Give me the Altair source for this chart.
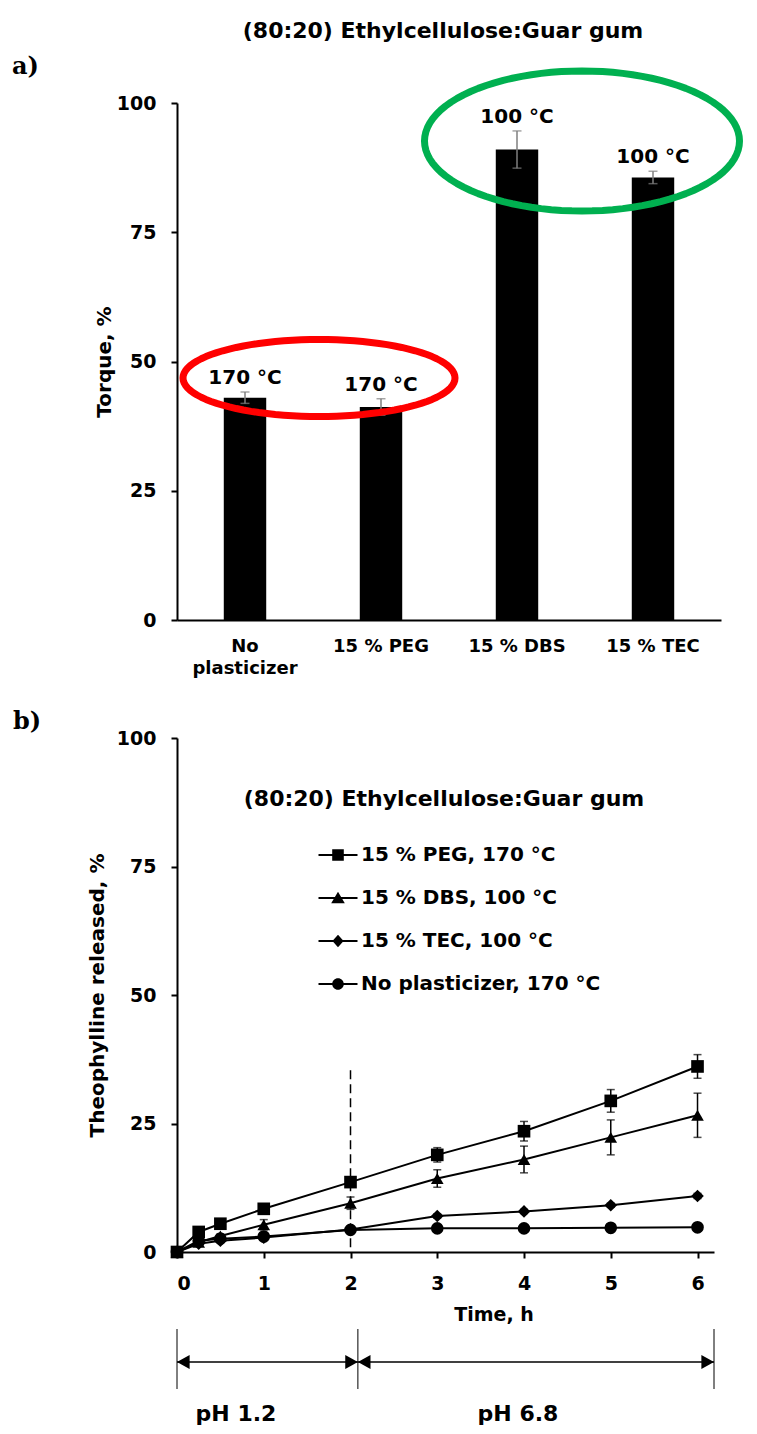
import math
import altair as alt
import pandas as pd

FONT = "DejaVu Sans"
SERIF = "DejaVu Serif"

# ---------------- data: panel a ----------------
categories = ["No plasticizer", "15 % PEG", "15 % DBS", "15 % TEC"]
torque = [43.0, 41.2, 91.0, 85.6]
torque_err = [1.1, 1.6, 3.6, 1.2]
temp_labels = ["170 °C", "170 °C", "100 °C", "100 °C"]
torque_ticks = [0, 25, 50, 75, 100]
title_text = "(80:20) Ethylcellulose:Guar gum"

# ---------------- data: panel b ----------------
times = [0, 0.25, 0.5, 1, 2, 3, 4, 5, 6]
series_names = ["15 % PEG, 170 °C", "15 % DBS, 100 °C", "15 % TEC, 100 °C", "No plasticizer, 170 °C"]
peg = [0, 3.9, 5.5, 8.4, 13.6, 18.9, 23.5, 29.4, 36.1]
peg_err = [0, 0.3, 0.3, 0.4, 0.5, 1.4, 1.9, 2.2, 2.3]
dbs = [0, 1.9, 3.1, 5.3, 9.5, 14.3, 18.0, 22.3, 26.6]
dbs_err = [0, 0.3, 0.4, 1.0, 1.2, 1.7, 2.6, 3.4, 4.3]
tec = [0, 1.6, 2.2, 2.8, 4.4, 7.0, 7.9, 9.1, 10.9]
tec_err = [0, 0.2, 0.2, 0.3, 0.3, 0.4, 0.4, 0.4, 0.5]
nop = [0, 2.2, 2.6, 3.0, 4.3, 4.6, 4.6, 4.7, 4.8]
nop_err = [0, 0.2, 0.2, 0.2, 0.2, 0.2, 0.2, 0.2, 0.2]
time_ticks = [0, 1, 2, 3, 4, 5, 6]
release_ticks = [0, 25, 50, 75, 100]
time_max = 6.19
switch_time = [2]
switch_range = [0.9, 35.7]
phase_names = ["pH 1.2", "pH 6.8"]
phase_start = [0, 2.085]
phase_end = [2.085, 6.19]

# ---------------- panel a ----------------
df_a = pd.DataFrame({"cat": categories, "torque": torque, "err": torque_err, "temp": temp_labels})

W_A, H_A = 544, 517
xA = alt.X("cat:N", sort=categories,
           scale=alt.Scale(paddingInner=0.688, paddingOuter=0.344),
           axis=alt.Axis(title=None, labelAngle=0, ticks=False, tickSize=0, labelPadding=17,
                         labelFontSize=18, labelFontWeight="bold", labelLineHeight=22,
                         labelExpr="datum.label == 'No plasticizer' ? ['No', 'plasticizer'] : datum.label",
                         domainWidth=2, labelLimit=300))
yA_axis = alt.Axis(values=torque_ticks, title="Torque, %", titleFontSize=20, titleFontWeight="bold",
                   titlePadding=2, labelFontSize=19, labelFontWeight="bold", labelPadding=15,
                   tickSize=6, tickWidth=2, domainWidth=2, grid=False)
yA_scale = alt.Scale(domain=[0, 100], nice=False)

base_a = alt.Chart(df_a).transform_calculate(lo="datum.torque - datum.err", hi="datum.torque + datum.err")
bars = base_a.mark_bar(color="black").encode(x=xA, y=alt.Y("torque:Q", scale=yA_scale, axis=yA_axis))
err_a = base_a.mark_rule(color="#7f7f7f", strokeWidth=1.5).encode(x=xA, y="lo:Q", y2="hi:Q")
cap_a_hi = base_a.mark_tick(color="#7f7f7f", size=9, thickness=1.5, orient="horizontal").encode(x=xA, y="hi:Q")
cap_a_lo = base_a.mark_tick(color="#7f7f7f", size=9, thickness=1.5, orient="horizontal").encode(x=xA, y="lo:Q")
lab_a = base_a.mark_text(fontSize=20, fontWeight="bold", baseline="middle", dy=-14, color="black").encode(
    x=xA, y="hi:Q", text="temp:N")


def ellipse_path(b, n=96):
    # outline of an ellipse (unit half-width, half-height b) used as a symbol shape
    pts = []
    for i in range(n):
        a = 2 * math.pi * i / n
        pts.append(f"{math.cos(a):.4f},{b * math.sin(a):.4f}")
    return "M" + " L".join(pts) + " Z"


one = pd.DataFrame({"k": [0]})
red_rx, red_ry = 136, 38.5
green_rx, green_ry = 157.5, 70
red_ell = alt.Chart(one).mark_point(shape=ellipse_path(red_ry / red_rx), size=(2 * red_rx) ** 2,
                                    filled=False, color="#FF0000", strokeWidth=7, strokeJoin="round",
                                    opacity=1).encode(x=alt.value(142), y=alt.value(275))
green_ell = alt.Chart(one).mark_point(shape=ellipse_path(green_ry / green_rx), size=(2 * green_rx) ** 2,
                                      filled=False, color="#00B050", strokeWidth=7, strokeJoin="round",
                                      opacity=1).encode(x=alt.value(405), y=alt.value(38))
title_a = alt.Chart(one).mark_text(text=title_text, fontSize=22, fontWeight="bold", align="center",
                                   baseline="middle", color="black").encode(x=alt.value(266), y=alt.value(-72))
tag_a = alt.Chart(one).mark_text(text="a)", font=SERIF, fontSize=24, fontWeight="bold", align="left",
                                 baseline="middle", color="black").encode(x=alt.value(-165), y=alt.value(-36))

panel_a = alt.layer(bars, err_a, cap_a_hi, cap_a_lo, red_ell, green_ell, lab_a, title_a, tag_a).properties(
    width=W_A, height=H_A)

# ---------------- panel b ----------------
rows = []
for name, vals, errs in zip(series_names, [peg, dbs, tec, nop], [peg_err, dbs_err, tec_err, nop_err]):
    for t, v, e in zip(times, vals, errs):
        rows.append({"time": t, "rel": v, "err": e, "series": name})
df_b = pd.DataFrame(rows)

W_B, H_B = 537, 514
xB_scale = alt.Scale(domain=[0, time_max], nice=False)
yB_scale = alt.Scale(domain=[0, 100], nice=False)
xB = alt.X("time:Q", scale=xB_scale,
           axis=alt.Axis(values=time_ticks, title=None, labelFontSize=19, labelFontWeight="bold",
                         labelPadding=16, tickSize=6, tickWidth=2, domainWidth=2, grid=False, format="d"))
yB = alt.Y("rel:Q", scale=yB_scale,
           axis=alt.Axis(values=release_ticks, title="Theophylline released, %", titleFontSize=20,
                         titleFontWeight="bold", titlePadding=9, labelFontSize=19, labelFontWeight="bold",
                         labelPadding=15, tickSize=6, tickWidth=2, domainWidth=2, grid=False))

base_b = alt.Chart(df_b).transform_calculate(lo="datum.rel - datum.err", hi="datum.rel + datum.err")
lines_b = base_b.mark_line(color="black", strokeWidth=2).encode(x=xB, y=yB, detail="series:N")
points_b = base_b.mark_point(filled=True, color="black", opacity=1, size=160).encode(
    x=xB, y=yB,
    shape=alt.Shape("series:N", scale=alt.Scale(domain=series_names,
                                                range=["square", "triangle-up", "diamond", "circle"]),
                    legend=None))
err_b = base_b.mark_rule(color="black", strokeWidth=1.5).encode(
    x=alt.X("time:Q", scale=xB_scale), y=alt.Y("lo:Q", scale=yB_scale), y2="hi:Q")
cap_b_hi = base_b.mark_tick(color="black", size=8, thickness=1.5, orient="horizontal").encode(
    x=alt.X("time:Q", scale=xB_scale), y=alt.Y("hi:Q", scale=yB_scale))
cap_b_lo = base_b.mark_tick(color="black", size=8, thickness=1.5, orient="horizontal").encode(
    x=alt.X("time:Q", scale=xB_scale), y=alt.Y("lo:Q", scale=yB_scale))

df_switch = pd.DataFrame({"t": switch_time, "y1": [switch_range[0]], "y2": [switch_range[1]]})
dash_b = alt.Chart(df_switch).mark_rule(color="black", strokeWidth=1.5, strokeDash=[9, 5]).encode(
    x=alt.X("t:Q", scale=xB_scale), y=alt.Y("y1:Q", scale=yB_scale), y2="y2:Q")

LINE = "M-1.95,-0.1 H1.95 V0.1 H-1.95 Z "
legend_paths = [
    LINE + "M-0.58,-0.58 H0.58 V0.58 H-0.58 Z",
    LINE + "M0,-0.62 L0.68,0.52 H-0.68 Z",
    LINE + "M0,-0.62 L0.56,0 L0,0.62 L-0.56,0 Z",
    LINE + "M0.58,0 C0.58,0.32 0.32,0.58 0,0.58 C-0.32,0.58 -0.58,0.32 -0.58,0 "
           "C-0.58,-0.32 -0.32,-0.58 0,-0.58 C0.32,-0.58 0.58,-0.32 0.58,0 Z",
]
legend_layer = base_b.transform_filter("false").mark_point(
    filled=True, color="black", size=400, opacity=1).encode(
    shape=alt.Shape("series:N", scale=alt.Scale(domain=series_names, range=legend_paths),
                    legend=alt.Legend(orient="none", legendX=151, legendY=107, title=None,
                                      labelFontSize=20, labelFontWeight="bold", labelFont=FONT,
                                      labelColor="black", labelOffset=13, rowPadding=23,
                                      symbolSize=400, symbolStrokeWidth=0, symbolFillColor="black",
                                      symbolOpacity=1, labelLimit=400)))

legend_title = alt.Chart(one).mark_text(text=title_text, fontSize=22, fontWeight="bold", align="center",
                                        baseline="middle", color="black").encode(x=alt.value(267), y=alt.value(61))
tag_b = alt.Chart(one).mark_text(text="b)", font=SERIF, fontSize=24, fontWeight="bold", align="left",
                                 baseline="middle", color="black").encode(x=alt.value(-164), y=alt.value(-16))
time_title = alt.Chart(one).mark_text(text="Time, h", fontSize=19, fontWeight="bold", align="center",
                                      baseline="middle", color="black").encode(x=alt.value(317), y=alt.value(577))

df_bounds = pd.DataFrame({"t": [phase_start[0], phase_start[1], phase_end[1]]})
bound_rules = alt.Chart(df_bounds).mark_rule(color="black", strokeWidth=1).encode(
    x=alt.X("t:Q", scale=xB_scale), y=alt.value(591), y2=alt.value(651))
df_phase = pd.DataFrame({"name": phase_names, "t0": phase_start, "t1": phase_end})
arrows = alt.Chart(df_phase).mark_rule(color="black", strokeWidth=1.5).encode(
    x=alt.X("t0:Q", scale=xB_scale), x2="t1:Q", y=alt.value(624))
head_l = alt.Chart(df_phase).mark_point(shape="M0,0 L1.8,-1 L1.8,1 Z", size=196, filled=True,
                                        color="black", opacity=1).encode(
    x=alt.X("t0:Q", scale=xB_scale), y=alt.value(624))
head_r = alt.Chart(df_phase).mark_point(shape="M0,0 L-1.8,-1 L-1.8,1 Z", size=196, filled=True,
                                        color="black", opacity=1).encode(
    x=alt.X("t1:Q", scale=xB_scale), y=alt.value(624))
ph1 = alt.Chart(one).mark_text(text=phase_names[0], fontSize=22, fontWeight="bold", align="center",
                               baseline="middle", color="black").encode(x=alt.value(59), y=alt.value(676))
ph2 = alt.Chart(one).mark_text(text=phase_names[1], fontSize=22, fontWeight="bold", align="center",
                               baseline="middle", color="black").encode(x=alt.value(341), y=alt.value(676))

panel_b = alt.layer(lines_b, points_b, err_b, cap_b_hi, cap_b_lo, dash_b, legend_layer, legend_title, tag_b,
                    time_title, bound_rules, arrows, head_l, head_r, ph1, ph2).resolve_scale(
    shape="independent").properties(width=W_B, height=H_B)

chart = alt.vconcat(panel_a, panel_b, spacing=33).properties(
    padding={"left": 4, "top": 12, "right": 0, "bottom": 0}
).configure_view(stroke=None).configure_axis(
    labelFont=FONT, titleFont=FONT, labelColor="black", titleColor="black",
    domainColor="black", tickColor="black"
).configure_text(font=FONT)

chart.save("out.html", embed_options={"renderer": "svg", "actions": False})
